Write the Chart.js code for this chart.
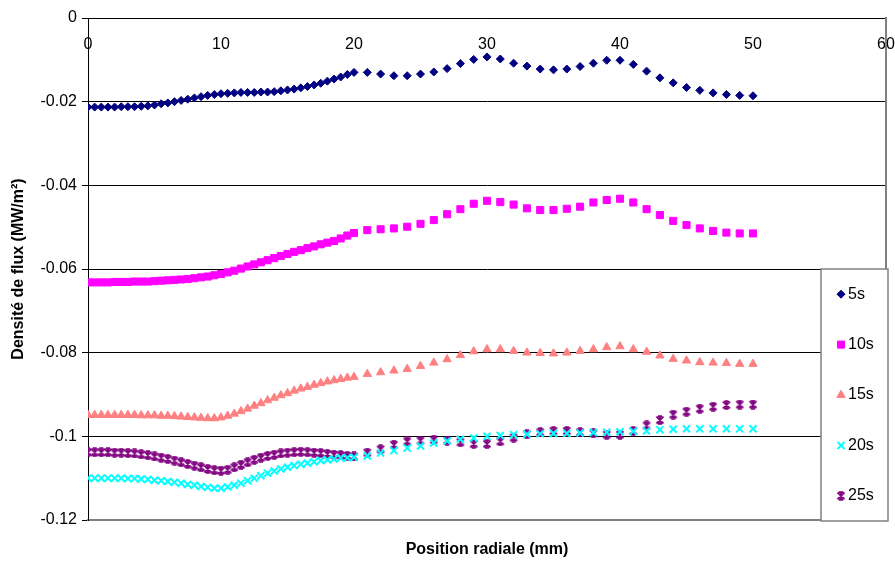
<!DOCTYPE html>
<html>
<head>
<meta charset="utf-8">
<script src="https://cdn.jsdelivr.net/npm/chart.js@4.4.1/dist/chart.umd.min.js"></script>
<style>
  body { margin: 0; background: #fff; }
  #wrap { width: 895px; height: 561px; }
</style>
</head>
<body>
<div id="wrap"><canvas id="chart-flux" width="895" height="561"></canvas></div>
<script>
// position radiale (mm) : pas de 0.5 jusqu'a 20, puis pas de 1
const positions = [
  0, 0.5, 1, 1.5, 2, 2.5, 3, 3.5, 4, 4.5, 5, 5.5, 6, 6.5, 7, 7.5, 8, 8.5, 9, 9.5,
  10, 10.5, 11, 11.5, 12, 12.5, 13, 13.5, 14, 14.5, 15, 15.5, 16, 16.5, 17, 17.5, 18, 18.5, 19, 19.5, 20,
  21, 22, 23, 24, 25, 26, 27, 28, 29, 30, 31, 32, 33, 34, 35, 36, 37, 38, 39, 40,
  41, 42, 43, 44, 45, 46, 47, 48, 49, 50
];

const flux5s = [
  -0.0213, -0.0213, -0.0213, -0.0213, -0.0213, -0.0212, -0.0212, -0.0212, -0.0211, -0.0210,
  -0.0208, -0.0205, -0.0203, -0.0200, -0.0197, -0.0194, -0.0191, -0.0188, -0.0185, -0.0183,
  -0.0181, -0.0180, -0.0179, -0.0178, -0.0178, -0.0178, -0.0177, -0.0177, -0.0176, -0.0174,
  -0.0172, -0.0170, -0.0167, -0.0164, -0.0160, -0.0156, -0.0151, -0.0146, -0.0141, -0.0135, -0.0130,
  -0.0130, -0.0134, -0.0138, -0.0138, -0.0134, -0.0129, -0.0121, -0.0109, -0.0099, -0.0093,
  -0.0098, -0.0108, -0.0115, -0.0122, -0.0124, -0.0122, -0.0116, -0.0108, -0.0101, -0.0101,
  -0.0111, -0.0127, -0.0143, -0.0155, -0.0166, -0.0173, -0.0179, -0.0183, -0.0185, -0.0186
];

const flux10s = [
  -0.0632, -0.0632, -0.0632, -0.0632, -0.0631, -0.0631, -0.0631, -0.0630, -0.0630, -0.0630,
  -0.0629, -0.0628, -0.0627, -0.0626, -0.0625, -0.0624, -0.0622, -0.0620, -0.0618, -0.0615,
  -0.0612, -0.0608, -0.0604, -0.0599, -0.0594, -0.0589, -0.0584, -0.0579, -0.0574, -0.0569,
  -0.0564, -0.0559, -0.0555, -0.0550, -0.0546, -0.0541, -0.0537, -0.0533, -0.0527, -0.0520, -0.0514,
  -0.0507, -0.0505, -0.0503, -0.0499, -0.0492, -0.0483, -0.0469, -0.0457, -0.0444, -0.0437,
  -0.0440, -0.0446, -0.0455, -0.0459, -0.0459, -0.0456, -0.0451, -0.0441, -0.0435, -0.0432,
  -0.0441, -0.0457, -0.0471, -0.0485, -0.0495, -0.0503, -0.0509, -0.0513, -0.0515, -0.0515
];

const flux15s = [
  -0.0949, -0.0949, -0.0949, -0.0949, -0.0949, -0.0949, -0.0949, -0.0949, -0.0950, -0.0950,
  -0.0950, -0.0951, -0.0951, -0.0952, -0.0953, -0.0954, -0.0955, -0.0956, -0.0957, -0.0957,
  -0.0955, -0.0951, -0.0946, -0.0940, -0.0934, -0.0927, -0.0921, -0.0914, -0.0908, -0.0902,
  -0.0897, -0.0891, -0.0886, -0.0882, -0.0877, -0.0873, -0.0869, -0.0866, -0.0863, -0.0860, -0.0858,
  -0.0851, -0.0847, -0.0843, -0.0839, -0.0832, -0.0824, -0.0816, -0.0806, -0.0797, -0.0792,
  -0.0792, -0.0796, -0.0800, -0.0801, -0.0802, -0.0800, -0.0796, -0.0792, -0.0787, -0.0785,
  -0.0792, -0.0798, -0.0807, -0.0815, -0.0819, -0.0823, -0.0824, -0.0825, -0.0827, -0.0827
];

const flux20s = [
  -0.1100, -0.1100, -0.1100, -0.1100, -0.1100, -0.1100, -0.1101, -0.1101, -0.1102, -0.1103,
  -0.1105, -0.1106, -0.1108, -0.1110, -0.1112, -0.1115, -0.1117, -0.1120, -0.1122, -0.1124,
  -0.1124, -0.1121, -0.1117, -0.1112, -0.1106, -0.1100, -0.1094, -0.1088, -0.1083, -0.1078,
  -0.1074, -0.1070, -0.1067, -0.1064, -0.1061, -0.1058, -0.1056, -0.1054, -0.1052, -0.1051, -0.1050,
  -0.1047, -0.1040, -0.1034, -0.1028, -0.1023, -0.1016, -0.1011, -0.1007, -0.1004, -0.1000,
  -0.0998, -0.0996, -0.0995, -0.0994, -0.0993, -0.0993, -0.0992, -0.0991, -0.0990, -0.0989,
  -0.0988, -0.0987, -0.0984, -0.0983, -0.0982, -0.0982, -0.0982, -0.0982, -0.0982, -0.0982
];

const flux25s = [
  -0.1038, -0.1038, -0.1038, -0.1038, -0.1039, -0.1039, -0.1040, -0.1041, -0.1043, -0.1045,
  -0.1048, -0.1051, -0.1054, -0.1058, -0.1062, -0.1066, -0.1070, -0.1074, -0.1078, -0.1081,
  -0.1082, -0.1080, -0.1074, -0.1068, -0.1062, -0.1056, -0.1051, -0.1047, -0.1044, -0.1041,
  -0.1039, -0.1038, -0.1037, -0.1038, -0.1039, -0.1040, -0.1042, -0.1044, -0.1045, -0.1047, -0.1048,
  -0.1039, -0.1031, -0.1020, -0.1012, -0.1010, -0.1008, -0.1010, -0.1014, -0.1018, -0.1018,
  -0.1012, -0.1003, -0.0995, -0.0990, -0.0987, -0.0987, -0.0990, -0.0993, -0.0996, -0.0996,
  -0.0987, -0.0974, -0.0961, -0.0948, -0.0941, -0.0934, -0.0929, -0.0925, -0.0924, -0.0924
];

const seriesLabels = ['5s', '10s', '15s', '20s', '25s'];
const xTicks = [0, 10, 20, 30, 40, 50, 60];
const yTicks = [0, -0.02, -0.04, -0.06, -0.08, -0.1, -0.12];

// marqueur "etoile" facon Excel (X + trait vertical)
function makeStar(color) {
  const c = document.createElement('canvas');
  c.width = 10; c.height = 10;
  const g = c.getContext('2d');
  g.strokeStyle = color;
  g.lineWidth = 1.8;
  g.beginPath();
  g.moveTo(1.5, 1.5); g.lineTo(8.5, 8.5);
  g.moveTo(8.5, 1.5); g.lineTo(1.5, 8.5);
  g.moveTo(5, 1); g.lineTo(5, 9);
  g.moveTo(3, 1.2); g.lineTo(7, 1.2);
  g.moveTo(3, 8.8); g.lineTo(7, 8.8);
  g.stroke();
  return c;
}

const toPoints = (vals) => positions.map((x, i) => ({ x: x, y: vals[i] }));

const styles = [
  { color: '#000080', pointStyle: 'rectRot', radius: 4, border: 1 },
  { color: '#FF00FF', pointStyle: 'rect', radius: 5, border: 1 },
  { color: '#FF8080', pointStyle: 'triangle', radius: 4.8, border: 1 },
  { color: '#00FFFF', pointStyle: 'crossRot', radius: 5, border: 2 },
  { color: '#800080', pointStyle: makeStar('#800080'), radius: 5, border: 1 }
];
const allSeries = [flux5s, flux10s, flux15s, flux20s, flux25s];

const datasets = allSeries.map((vals, i) => ({
  label: seriesLabels[i],
  data: toPoints(vals),
  pointStyle: styles[i].pointStyle,
  pointRadius: styles[i].radius,
  pointBorderWidth: styles[i].border,
  pointBackgroundColor: styles[i].color,
  pointBorderColor: styles[i].color,
  backgroundColor: styles[i].color,
  borderColor: styles[i].color,
  showLine: false
}));

// legende encadree, posee par-dessus la zone de trace (comme Excel)
const legendBox = {
  id: 'legendBox',
  afterDraw(chart) {
    const { ctx, chartArea } = chart;
    const right = chartArea.right + 2;
    const left = right - 67;
    const top = chartArea.top + 251;
    const bottom = chartArea.bottom + 1;
    ctx.save();
    ctx.fillStyle = '#fff';
    ctx.fillRect(left, top, right - left, bottom - top);
    ctx.strokeStyle = '#808080';
    ctx.lineWidth = 1.5;
    ctx.strokeRect(left, top, right - left, bottom - top);
    const step = (bottom - top) / chart.data.datasets.length;
    chart.data.datasets.forEach((ds, i) => {
      const y = top + step * (i + 0.5);
      ctx.fillStyle = ds.pointBackgroundColor;
      ctx.strokeStyle = ds.pointBorderColor;
      ctx.lineWidth = ds.pointBorderWidth;
      Chart.helpers.drawPoint(ctx, {
        pointStyle: ds.pointStyle, radius: ds.pointRadius,
        borderWidth: ds.pointBorderWidth, rotation: 0
      }, left + 20, y);
      ctx.fillStyle = '#000';
      ctx.font = '16px "Liberation Sans", Arial, sans-serif';
      ctx.textBaseline = 'middle';
      ctx.textAlign = 'left';
      ctx.fillText(ds.label, left + 27, y);
    });
    ctx.restore();
  }
};

Chart.defaults.font.family = '"Liberation Sans", Arial, sans-serif';
Chart.defaults.color = '#000';

new Chart(document.getElementById('chart-flux'), {
  type: 'scatter',
  data: { datasets: datasets },
  options: {
    responsive: false,
    animation: false,
    layout: { padding: { left: 0, top: 18, right: 9, bottom: 0 } },
    plugins: { legend: { display: false }, tooltip: { enabled: false } },
    scales: {
      x: {
        type: 'linear',
        position: { y: 0 },
        min: 0, max: 60,
        afterBuildTicks: (s) => { s.ticks = xTicks.map(v => ({ value: v })); },
        grid: { display: false, drawTicks: false },
        border: { display: true, color: '#000', width: 1 },
        ticks: { font: { size: 16 }, padding: 17, maxRotation: 0, autoSkip: false },
        afterFit: (s) => { s.paddingLeft = 0; s.paddingRight = 0; }
      },
      x2: {
        type: 'linear',
        position: 'bottom',
        min: 0, max: 60,
        grid: { display: false, drawTicks: false },
        border: { display: true, color: '#808080', width: 2 },
        ticks: { display: false },
        title: {
          display: true, text: 'Position radiale (mm)',
          font: { size: 16, weight: 'bold' }, padding: { top: 0, bottom: 2 }
        },
        afterFit: (s) => { s.height = 41; }
      },
      y: {
        type: 'linear',
        position: 'left',
        min: -0.12, max: 0,
        afterBuildTicks: (s) => { s.ticks = yTicks.map(v => ({ value: v })); },
        grid: {
          color: (c) => (c.tick && Math.abs(c.tick.value + 0.12) < 1e-9) ? 'rgba(0,0,0,0)' : '#000',
          lineWidth: 1,
          tickLength: 6,
          tickColor: '#000'
        },
        border: { display: true, color: '#000', width: 1 },
        ticks: {
          font: { size: 16 }, padding: 5,
          callback: (v) => String(Number(Number(v).toFixed(2)))
        },
        title: {
          display: true, text: 'Densité de flux (MW/m²)',
          font: { size: 16, weight: 'bold' }, padding: { top: 9, bottom: 0 }
        },
        afterFit: (s) => { s.width = 88; }
      },
      y2: {
        type: 'linear',
        position: 'right',
        min: -0.12, max: 0,
        grid: { display: false, drawTicks: false },
        border: { display: true, color: '#808080', width: 2 },
        ticks: { display: false },
        afterFit: (s) => { s.width = 0; }
      }
    }
  },
  plugins: [legendBox]
});
</script>
</body>
</html>
